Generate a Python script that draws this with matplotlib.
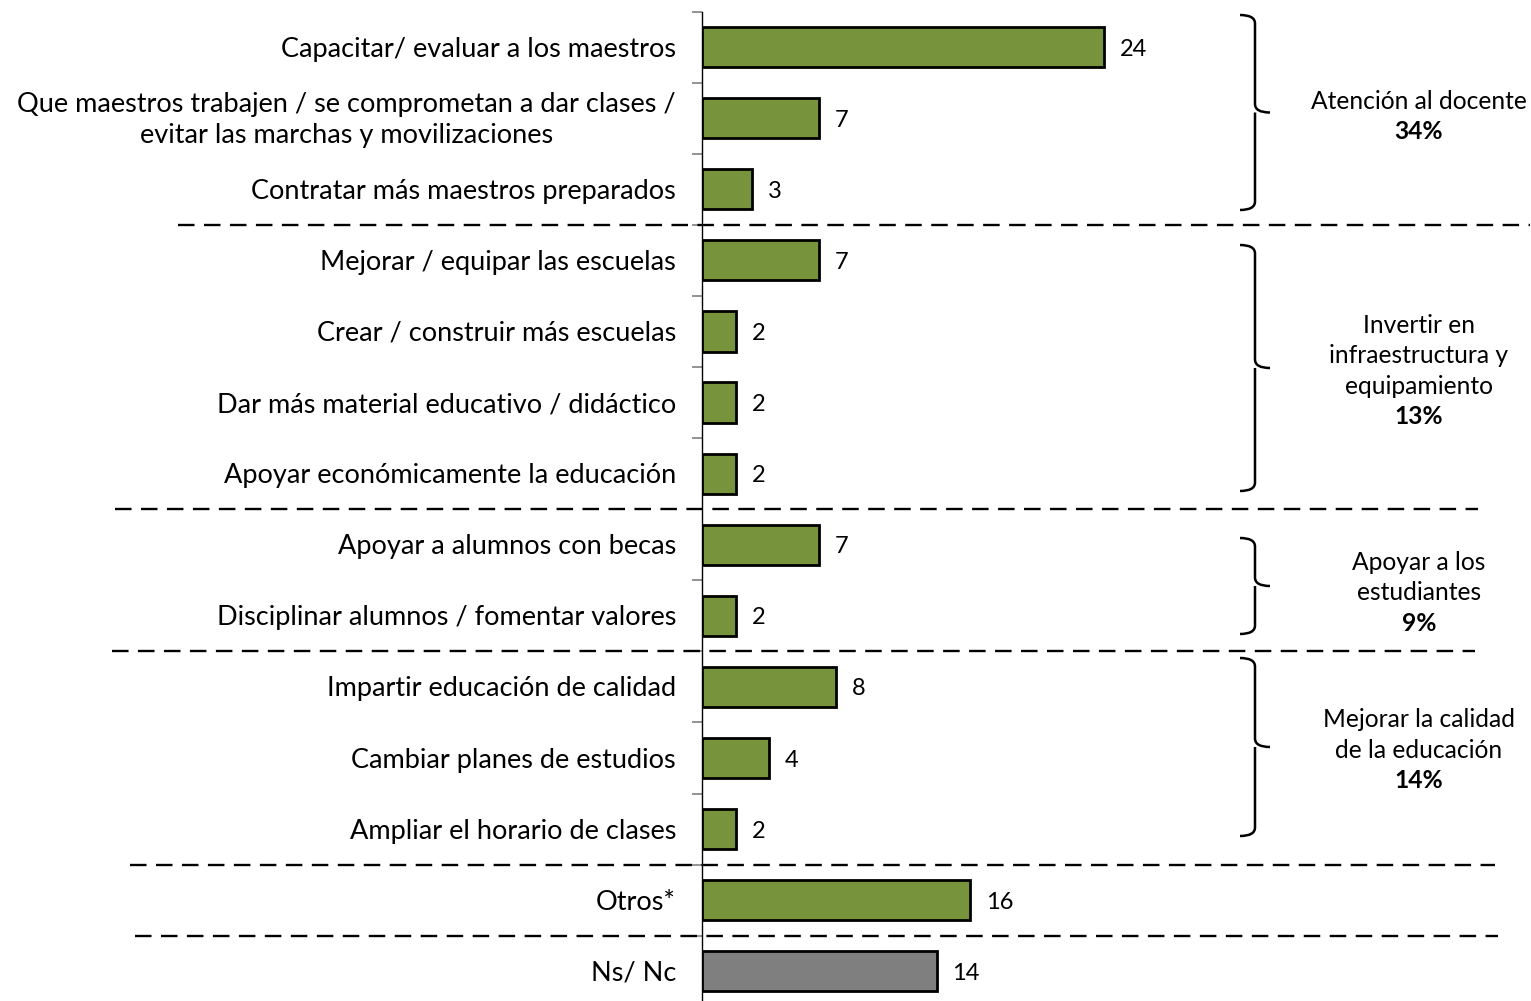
import matplotlib
matplotlib.use("Agg")
import matplotlib.pyplot as plt
import matplotlib.transforms as mtransforms
from matplotlib.lines import Line2D
from matplotlib.path import Path
from matplotlib.patches import PathPatch

plt.rcParams['font.family'] = ['Lato', 'DejaVu Sans']

categories = [
    "Capacitar/ evaluar a los maestros",
    "Que maestros trabajen / se comprometan a dar clases /\nevitar las marchas y movilizaciones",
    "Contratar más maestros preparados",
    "Mejorar / equipar las escuelas",
    "Crear / construir más escuelas",
    "Dar más material educativo / didáctico",
    "Apoyar económicamente la educación",
    "Apoyar a alumnos con becas",
    "Disciplinar alumnos / fomentar valores",
    "Impartir educación de calidad",
    "Cambiar planes de estudios",
    "Ampliar el horario de clases",
    "Otros*",
    "Ns/ Nc",
]
values = [24, 7, 3, 7, 2, 2, 2, 7, 2, 8, 4, 2, 16, 14]
is_gray = [False] * 13 + [True]

group_titles = [
    "Atención al docente",
    "Invertir en\ninfraestructura y\nequipamiento",
    "Apoyar a los\nestudiantes",
    "Mejorar la calidad\nde la educación",
]
group_pcts = ["34%", "13%", "9%", "14%"]
separators_after = [2, 6, 8, 11, 12]

GREEN = "#77933C"
GRAY = "#7F7F7F"

W, H = 1531, 1001
fig = plt.figure(figsize=(W / 100, H / 100), dpi=100)
row_px = 71.1
top_px = 11.5
n = len(categories)
ax_h = n * row_px
ax = fig.add_axes([702 / W, (H - top_px - ax_h) / H, (W - 702) / W, ax_h / H])
px_per_unit = 16.75
ax.set_xlim(0, (W - 702) / px_per_unit)
ax.set_ylim(n - 0.5, -0.5)


def py(px):
    """pixel row (from top) -> data y"""
    return (px - top_px) / row_px - 0.5


text_dy = 2 / row_px

ypos = list(range(n))
colors = [GRAY if g else GREEN for g in is_gray]
ax.barh(ypos, values, height=0.565, color=colors, edgecolor="black", linewidth=2, zorder=3)

for y, v in zip(ypos, values):
    ax.text(v + 16 / px_per_unit, y + text_dy, str(v), va="center", ha="left", fontsize=17)

for s in ["top", "right", "bottom"]:
    ax.spines[s].set_visible(False)
ax.spines["left"].set_linewidth(1.0)
ax.set_xticks([])
ax.set_yticks([i - 0.5 for i in range(n + 1)])
ax.set_yticklabels([])
ax.tick_params(axis="y", length=7, width=1.2, color="#808080", direction="out")

for y, lab in zip(ypos, categories):
    ax.text(-26 / px_per_unit, y + text_dy, lab, ha="right", va="center", multialignment="center",
            fontsize=19.5, linespacing=1.3)

# dashed separators
trans = mtransforms.blended_transform_factory(fig.transFigure, ax.transData)
sep_x = [(178, 1530), (115, 1478), (112, 1475), (130, 1495), (135, 1498)]
for r, (x0, x1) in zip(separators_after, sep_x):
    ln = Line2D([x0 / W, x1 / W], [r + 0.5, r + 0.5], transform=trans, color="black",
                linewidth=1.7, linestyle=(0, (7, 4)), clip_on=False, zorder=5)
    fig.add_artist(ln)

# braces (pixel extents of each brace)
brace_px = [(15, 210), (245, 491), (538, 634), (658, 836)]
text_shift_px = [4, 3, 7, 3]
bx = 1240 / W
bw = 15 / W


def brace(p0, p1):
    y0, y1 = py(p0), py(p1)
    ym = (y0 + y1) / 2
    c = 0.12
    verts = [
        (bx, y0), (bx + bw, y0), (bx + bw, y0 + c),
        (bx + bw, ym - c),
        (bx + bw, ym), (bx + 2 * bw, ym),
        (bx + bw, ym), (bx + bw, ym + c),
        (bx + bw, y1 - c),
        (bx + bw, y1), (bx, y1),
    ]
    codes = [Path.MOVETO, Path.CURVE3, Path.CURVE3,
             Path.LINETO,
             Path.CURVE3, Path.CURVE3,
             Path.MOVETO, Path.LINETO,
             Path.LINETO,
             Path.CURVE3, Path.CURVE3]
    p = PathPatch(Path(verts, codes), transform=trans, fill=False, edgecolor="black",
                  linewidth=1.8, clip_on=False)
    fig.add_artist(p)
    return ym


tx = 1419 / W
for (p0, p1), sh, title, pct in zip(brace_px, text_shift_px, group_titles, group_pcts):
    ym = brace(p0, p1) + sh / row_px
    lines = title.split("\n")
    nl = len(lines)
    line_h = 30.5 / row_px
    total = nl + 1
    start = ym - (total - 1) / 2 * line_h
    for k, t in enumerate(lines):
        fig.text(0, 0, t, transform=trans, ha="center", va="center", fontsize=17.7)
        fig.texts[-1].set_position((tx, start + k * line_h))
    fig.text(0, 0, pct, transform=trans, ha="center", va="center", fontsize=17.7, fontweight="bold")
    fig.texts[-1].set_position((tx, start + nl * line_h))

fig.savefig("out.png", dpi=100)
